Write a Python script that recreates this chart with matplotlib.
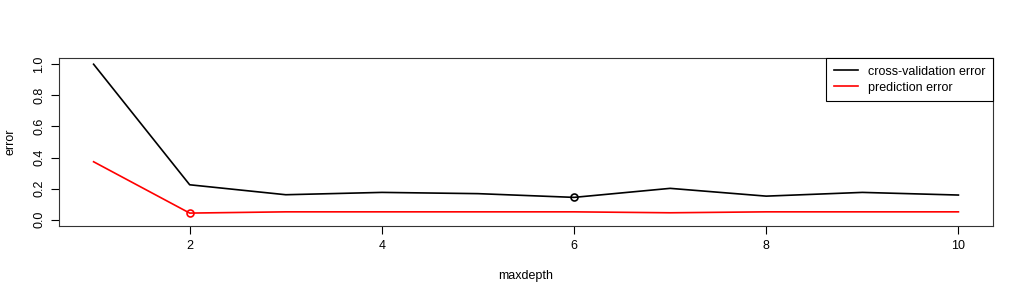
import matplotlib
matplotlib.use("Agg")
import matplotlib.pyplot as plt
from matplotlib.lines import Line2D

plt.rcParams['font.family'] = ['Liberation Sans', 'DejaVu Sans']

maxdepth = [1, 2, 3, 4, 5, 6, 7, 8, 9, 10]
cv_error = [1.0, 0.225, 0.161, 0.176, 0.168, 0.144, 0.202, 0.152, 0.176, 0.159]
pred_error = [0.373, 0.043, 0.051, 0.051, 0.051, 0.051, 0.045, 0.051, 0.051, 0.051]
cv_best = 6
pred_best = 2
xticks = [2, 4, 6, 8, 10]
yticks = [0.0, 0.2, 0.4, 0.6, 0.8, 1.0]
legend_labels = ["cross-validation error", "prediction error"]

W, H = 1024, 300
fig = plt.figure(figsize=(W / 100, H / 100), dpi=100)
ax = fig.add_axes([59 / W, 1 - 226 / H, (993 - 59) / W, (226 - 58) / H])

lw = 1.2
ax.plot(maxdepth, cv_error, color='black', lw=lw)
ax.plot(maxdepth, pred_error, color='red', lw=lw)
ax.plot([cv_best], [cv_error[maxdepth.index(cv_best)]], 'o', mfc='none', mec='black', ms=5, mew=1.2)
ax.plot([pred_best], [pred_error[maxdepth.index(pred_best)]], 'o', mfc='none', mec='red', ms=5, mew=1.2)

ax.set_xlim(0.64, 10.36)
ax.set_ylim(-0.04, 1.04)
ax.set_xticks(xticks)
ax.set_xticklabels([str(t) for t in xticks])
ax.set_yticks(yticks)
ax.set_yticklabels([f"{t:.1f}" for t in yticks], rotation=90, va='center')
ax.tick_params(direction='out', length=6, width=0.8, labelsize=9, colors='black', pad=4)
for s in ax.spines.values():
    s.set_linewidth(0.8)
    s.set_color('#333333')

ax.set_xlabel("maxdepth", fontsize=9)
ax.set_ylabel("error", fontsize=9)
ax.xaxis.set_label_coords((526 - 59) / 934, -(276 - 226) / 168)
ax.yaxis.set_label_coords((10 - 59) / 934, 0.5)
ax.yaxis.label.set_verticalalignment('center')
ax.xaxis.label.set_verticalalignment('center')

handles = [Line2D([], [], color='black', lw=lw), Line2D([], [], color='red', lw=lw)]
leg = ax.legend(handles, legend_labels, loc='upper right', bbox_to_anchor=(1.0, 1.0),
                borderaxespad=0, fontsize=9, fancybox=False, framealpha=1,
                edgecolor='black', handlelength=1.9, handletextpad=0.8,
                labelspacing=0.3, borderpad=0.62)
leg.get_frame().set_linewidth(0.8)

fig.savefig("out.png", dpi=100)
